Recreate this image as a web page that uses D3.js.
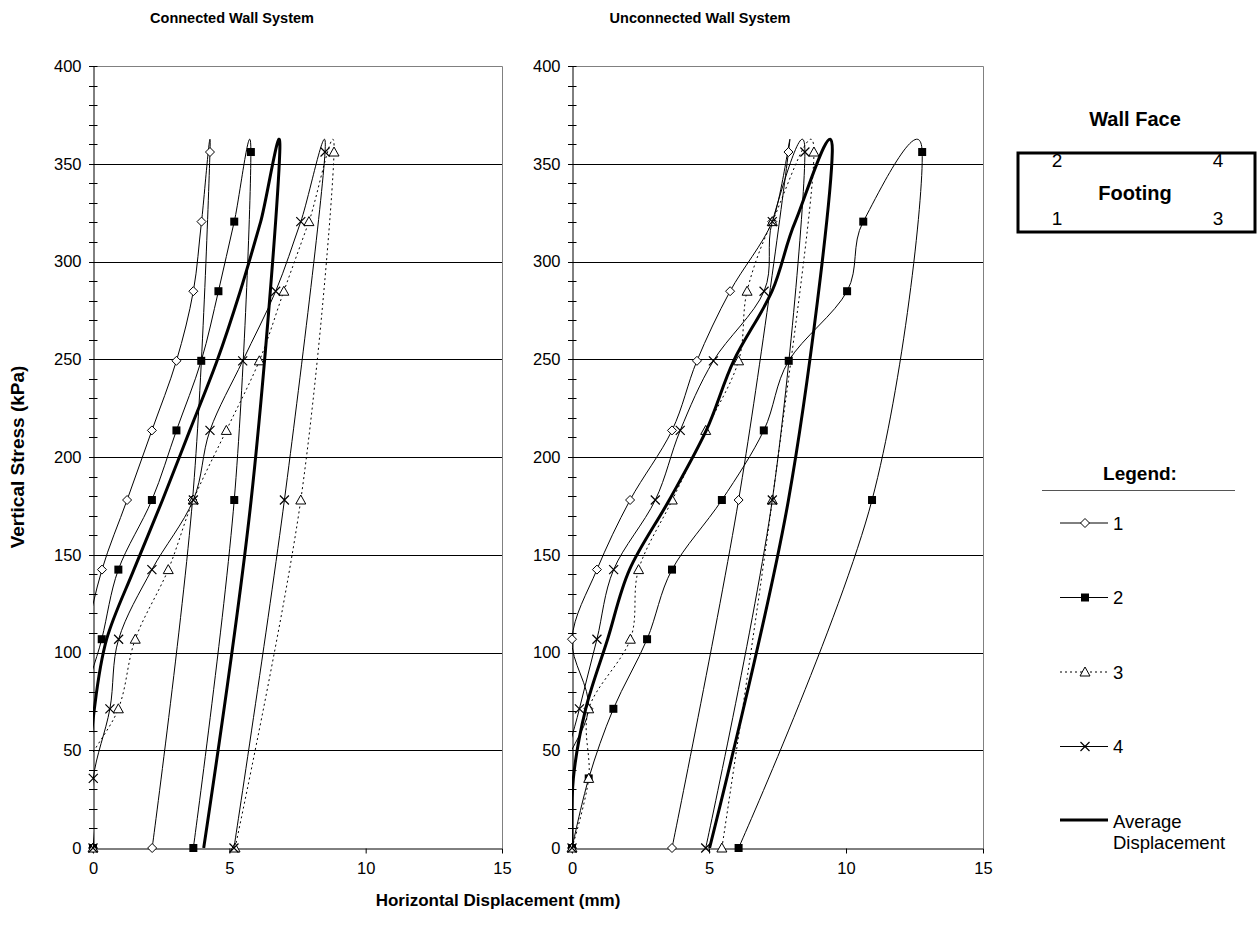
<!DOCTYPE html>
<html>
<head>
<meta charset="utf-8">
<script src="https://cdn.jsdelivr.net/npm/d3@7"></script>
<style>
  body { margin: 0; background: #fff; }
  svg { display: block; font-family: "Liberation Sans", Arial, sans-serif; }
</style>
</head>
<body>
<svg id="chart" width="1259" height="945"></svg>
<script>
// Load steps: loading to 356 kPa, then unloading to 178 and 0 kPa
const stressLevels = [0, 35.6, 71.2, 106.8, 142.4, 178, 213.6, 249.2, 284.8, 320.4, 356, 178, 0];

// Horizontal displacement (mm) at each load step — connected wall system
const conn1 = [0, -0.4, -0.5, -0.25, 0.33, 1.25, 2.16, 3.06, 3.68, 3.98, 4.29, 3.65, 2.17];
const conn2 = [0, -0.2, -0.35, 0.32, 0.93, 2.16, 3.06, 3.97, 4.60, 5.18, 5.79, 5.18, 3.68];
const conn3 = [0, -0.4, 0.93, 1.55, 2.76, 3.68, 4.89, 6.10, 7.00, 7.92, 8.84, 7.62, 5.21];
const conn4 = [0, 0.01, 0.62, 0.94, 2.16, 3.68, 4.29, 5.49, 6.70, 7.62, 8.51, 7.02, 5.17];
const connAvg = [0, -0.15, 0.05, 0.5, 1.5, 2.55, 3.55, 4.55, 5.4, 6.15, 6.85, 5.8, 4.06];

// Horizontal displacement (mm) at each load step — unconnected wall system
const unc1 = [0, -0.4, 0.6, 0.0, 0.91, 2.12, 3.65, 4.56, 5.77, 7.31, 7.90, 6.08, 3.65];
const unc2 = [0, 0.61, 1.51, 2.74, 3.65, 5.47, 7.00, 7.91, 10.04, 10.63, 12.78, 10.95, 6.08];
const unc3 = [0, 0.61, 0.61, 2.13, 2.43, 3.66, 4.88, 6.08, 6.39, 7.31, 8.83, 7.31, 5.47];
const unc4 = [0, -0.3, 0.27, 0.91, 1.52, 3.04, 3.95, 5.16, 7.01, 7.31, 8.50, 7.31, 4.88];
const uncAvg = [0, 0.05, 0.5, 1.3, 2.1, 3.55, 4.9, 5.9, 7.3, 8.15, 9.5, 7.9, 5.02];

const xTicks = [0, 5, 10, 15];
const yTicks = [0, 50, 100, 150, 200, 250, 300, 350, 400];
const seriesNames = ["1", "2", "3", "4"];
const panelTitles = ["Connected Wall System", "Unconnected Wall System"];

const FONT = '"Liberation Sans", Arial, sans-serif';
const svg = d3.select("#chart");
svg.append("rect").attr("width", 1259).attr("height", 945).attr("fill", "#fff");

const markerTypes = ["diamond", "square", "triangle", "cross"];

function drawMarker(g, type, cx, cy) {
  if (type === "diamond") {
    g.append("path")
      .attr("d", `M${cx},${cy - 4.5}L${cx + 4.5},${cy}L${cx},${cy + 4.5}L${cx - 4.5},${cy}Z`)
      .attr("fill", "#fff").attr("stroke", "#000").attr("stroke-width", 1);
  } else if (type === "square") {
    g.append("rect").attr("x", cx - 4).attr("y", cy - 4).attr("width", 8).attr("height", 8)
      .attr("fill", "#000");
  } else if (type === "triangle") {
    g.append("path")
      .attr("d", `M${cx},${cy - 5}L${cx + 5},${cy + 4}L${cx - 5},${cy + 4}Z`)
      .attr("fill", "#fff").attr("stroke", "#000").attr("stroke-width", 1);
  } else if (type === "cross") {
    g.append("path")
      .attr("d", `M${cx - 4.5},${cy - 4.5}L${cx + 4.5},${cy + 4.5}M${cx - 4.5},${cy + 4.5}L${cx + 4.5},${cy - 4.5}`)
      .attr("fill", "none").attr("stroke", "#000").attr("stroke-width", 1.2);
  }
}

const plotTop = 66, plotBottom = 848;
const panels = [
  { left: 93, right: 502, titleX: 232, series: [conn1, conn2, conn3, conn4], avg: connAvg },
  { left: 572, right: 983, titleX: 700, series: [unc1, unc2, unc3, unc4], avg: uncAvg }
];

panels.forEach((p, pi) => {
  const x = d3.scaleLinear().domain([0, 15]).range([p.left, p.right]);
  const y = d3.scaleLinear().domain([0, 400]).range([plotBottom, plotTop]);
  const g = svg.append("g");

  // panel title
  svg.append("text").attr("x", p.titleX).attr("y", 23)
    .attr("text-anchor", "middle").attr("font-weight", "bold").attr("font-size", 14.5)
    .text(panelTitles[pi]);

  // horizontal gridlines
  g.selectAll(".grid").data(yTicks.filter(v => v > 0 && v < 400)).enter().append("line")
    .attr("x1", p.left).attr("x2", p.right)
    .attr("y1", d => Math.round(y(d)) + 0.5).attr("y2", d => Math.round(y(d)) + 0.5)
    .attr("stroke", "#000").attr("stroke-width", 1);

  // plot area border (top and right)
  g.append("path")
    .attr("d", `M${p.left},${plotTop + 0.5}H${p.right + 0.5}V${plotBottom}`)
    .attr("fill", "none").attr("stroke", "#808080").attr("stroke-width", 1);

  // y axis with crossing minor ticks every 10 kPa
  const yAxis = d3.axisLeft(y).tickValues(yTicks).tickSize(0).tickPadding(12);
  const ya = g.append("g").attr("transform", `translate(${p.left + 0.5},0)`).call(yAxis);
  ya.select(".domain").attr("stroke", "#000");
  ya.selectAll("text").attr("font-size", 16.5).attr("fill", "#000").attr("font-family", FONT);
  g.selectAll(".ytick").data(d3.range(0, 401, 10)).enter().append("line")
    .attr("x1", p.left - 4).attr("x2", p.left + 4.5)
    .attr("y1", d => Math.round(y(d)) + 0.5).attr("y2", d => Math.round(y(d)) + 0.5)
    .attr("stroke", "#000");

  // x axis
  const xAxis = d3.axisBottom(x).tickValues(xTicks).tickSizeInner(5).tickSizeOuter(0).tickPadding(9);
  const xa = g.append("g").attr("transform", `translate(0,${plotBottom + 0.5})`).call(xAxis);
  xa.select(".domain").attr("stroke", "#000");
  xa.selectAll(".tick line").attr("stroke", "#000");
  xa.selectAll("text").attr("font-size", 16.5).attr("fill", "#000").attr("font-family", FONT);

  // clip for the curves
  const clipId = "clip" + pi;
  svg.append("clipPath").attr("id", clipId).append("rect")
    .attr("x", p.left).attr("y", plotTop).attr("width", p.right - p.left).attr("height", plotBottom - plotTop);

  const line = d3.line().x(d => x(d[0])).y(d => y(d[1])).curve(d3.curveCardinal.tension(0));
  const dataG = svg.append("g");

  p.series.forEach((vals, si) => {
    const pts = vals.map((v, i) => [v, stressLevels[i]]);
    dataG.append("path").attr("clip-path", `url(#${clipId})`)
      .attr("d", line(pts)).attr("fill", "none").attr("stroke", "#000").attr("stroke-width", 1)
      .attr("stroke-dasharray", si === 2 ? "2,3" : null);
    const mg = dataG.append("g");
    pts.filter(d => d[0] >= -0.05).forEach(d => drawMarker(mg, markerTypes[si], x(d[0]), y(d[1])));
  });

  const avgPts = p.avg.map((v, i) => [v, stressLevels[i]]);
  dataG.append("path").attr("clip-path", `url(#${clipId})`)
    .attr("d", line(avgPts)).attr("fill", "none").attr("stroke", "#000").attr("stroke-width", 3);
});

// axis titles
svg.append("text").attr("transform", "translate(24,457) rotate(-90)")
  .attr("text-anchor", "middle").attr("font-weight", "bold").attr("font-size", 19)
  .text("Vertical Stress (kPa)");
svg.append("text").attr("x", 498).attr("y", 906)
  .attr("text-anchor", "middle").attr("font-weight", "bold").attr("font-size", 17)
  .text("Horizontal Displacement (mm)");

// plan sketch of the gauge positions
const key = svg.append("g");
key.append("text").attr("x", 1135).attr("y", 126).attr("text-anchor", "middle")
  .attr("font-weight", "bold").attr("font-size", 20).text("Wall Face");
key.append("rect").attr("x", 1018).attr("y", 153).attr("width", 237).attr("height", 79)
  .attr("fill", "none").attr("stroke", "#000").attr("stroke-width", 3);
[["2", 1057, 167], ["4", 1218, 167], ["1", 1057, 225], ["3", 1218, 225]].forEach(([t, tx, ty]) => {
  key.append("text").attr("x", tx).attr("y", ty).attr("text-anchor", "middle")
    .attr("font-size", 19).text(t);
});
key.append("text").attr("x", 1135).attr("y", 200).attr("text-anchor", "middle")
  .attr("font-weight", "bold").attr("font-size", 20).text("Footing");

// legend
const leg = svg.append("g");
leg.append("text").attr("x", 1140).attr("y", 480).attr("text-anchor", "middle")
  .attr("font-weight", "bold").attr("font-size", 19).text("Legend:");
leg.append("line").attr("x1", 1042).attr("x2", 1235).attr("y1", 490.5).attr("y2", 490.5)
  .attr("stroke", "#555").attr("stroke-width", 1);
const legY = [523, 597.5, 672, 746.5];
seriesNames.forEach((name, i) => {
  const ly = legY[i];
  leg.append("line").attr("x1", 1060).attr("x2", 1108).attr("y1", ly).attr("y2", ly)
    .attr("stroke", "#000").attr("stroke-width", 1).attr("stroke-dasharray", i === 2 ? "2,3" : null);
  drawMarker(leg, markerTypes[i], 1085, ly);
  leg.append("text").attr("x", 1113).attr("y", ly + 6.5).attr("font-size", 18.5).text(name);
});
leg.append("line").attr("x1", 1060).attr("x2", 1108).attr("y1", 820).attr("y2", 820)
  .attr("stroke", "#000").attr("stroke-width", 3);
leg.append("text").attr("x", 1113).attr("y", 828).attr("font-size", 18.5).text("Average");
leg.append("text").attr("x", 1113).attr("y", 849).attr("font-size", 18.5).text("Displacement");
</script>
</body>
</html>
